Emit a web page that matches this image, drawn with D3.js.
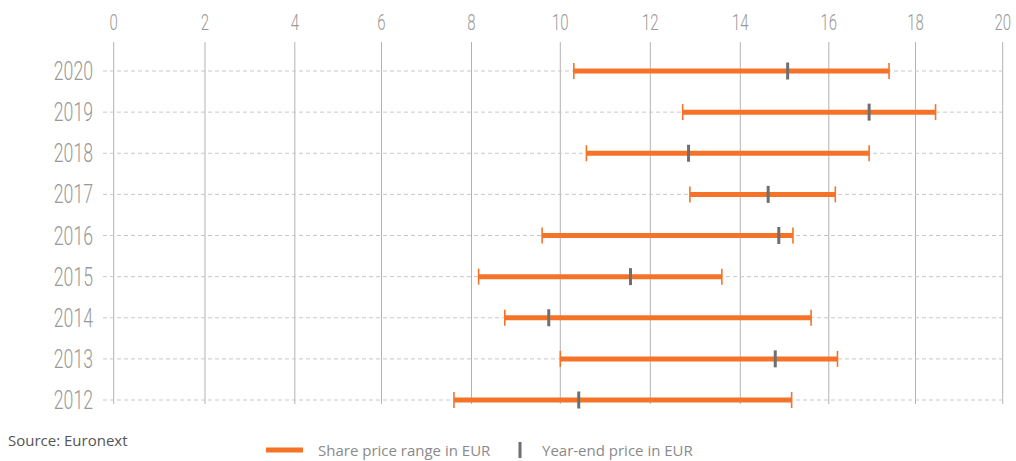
<!DOCTYPE html>
<html>
<head>
<meta charset="utf-8">
<script src="https://cdn.jsdelivr.net/npm/d3@7"></script>
<style>
  body { margin: 0; background: #fff; }
  svg { display: block; }
</style>
</head>
<body>
<svg id="chart" width="1016" height="461"></svg>
<script>
// data
var years   = ["2020","2019","2018","2017","2016","2015","2014","2013","2012"];
var lows    = [10.30, 12.72, 10.58, 12.88, 9.59, 8.16, 8.75, 10.00, 7.61];
var highs   = [17.39, 18.46, 16.93, 16.15, 15.19, 13.59, 15.60, 16.20, 15.16];
var yearEnd = [15.07, 16.93, 12.85, 14.63, 14.87, 11.56, 9.74, 14.79, 10.41];
var ticks   = [0,2,4,6,8,10,12,14,16,18,20];

var orange = "#f47328", grey = "#6f6f6f", txt = "#999";

var data = years.map(function(y, i) {
  return {year: y, low: lows[i], high: highs[i], end: yearEnd[i]};
});

var svg = d3.select("#chart");

// the gridlines in the picture are not evenly spaced, so piecewise scale
var x = d3.scaleLinear()
  .domain(ticks)
  .range([113.7, 205, 294.8, 381.5, 471.5, 560.3, 650.3, 740.3, 828.8, 915.5, 1002.7]);

var y = d3.scalePoint()
  .domain(years)
  .range([71, 400]);

// vertical gridlines
svg.append("g")
  .selectAll("line")
  .data(ticks)
  .enter().append("line")
    .attr("x1", function(d) { return x(d); })
    .attr("x2", function(d) { return x(d); })
    .attr("y1", 42)
    .attr("y2", 404)
    .attr("stroke", "#b3b3b3")
    .attr("stroke-width", 1);

// top tick labels (condensed light look)
svg.append("g")
  .selectAll("text")
  .data(ticks)
  .enter().append("text")
    .attr("transform", function(d) { return "translate(" + x(d) + ",30) scale(0.68,1)"; })
    .attr("text-anchor", "middle")
    .style("font-family", "Roboto")
    .style("font-weight", 300)
    .style("font-size", "22px")
    .attr("fill", txt)
    .text(function(d) { return d; });

// dashed row lines
svg.append("g")
  .selectAll("line")
  .data(years)
  .enter().append("line")
    .attr("x1", 103)
    .attr("x2", 1003)
    .attr("y1", function(d) { return y(d); })
    .attr("y2", function(d) { return y(d); })
    .attr("stroke", "#c8c8c8")
    .attr("stroke-dasharray", "4,3");

// year labels
svg.append("g")
  .selectAll("text")
  .data(years)
  .enter().append("text")
    .attr("transform", function(d) { return "translate(93," + (y(d) + 9) + ") scale(0.68,1)"; })
    .attr("text-anchor", "end")
    .style("font-family", "Roboto")
    .style("font-weight", 300)
    .style("font-size", "26px")
    .attr("fill", txt)
    .text(function(d) { return d; });

// ranges
var rows = svg.append("g").selectAll("g")
  .data(data)
  .enter().append("g");

rows.append("line")
  .attr("x1", function(d) { return x(d.low); })
  .attr("x2", function(d) { return x(d.high); })
  .attr("y1", function(d) { return y(d.year); })
  .attr("y2", function(d) { return y(d.year); })
  .attr("stroke", orange)
  .attr("stroke-width", 5);

["low","high"].forEach(function(k) {
  rows.append("line")
    .attr("x1", function(d) { return x(d[k]); })
    .attr("x2", function(d) { return x(d[k]); })
    .attr("y1", function(d) { return y(d.year) - 8; })
    .attr("y2", function(d) { return y(d.year) + 8; })
    .attr("stroke", orange)
    .attr("stroke-width", 1.6);
});

rows.append("rect")
  .attr("x", function(d) { return x(d.end) - 1.5; })
  .attr("y", function(d) { return y(d.year) - 8.5; })
  .attr("width", 3)
  .attr("height", 17)
  .attr("fill", grey);

// source
svg.append("text")
  .attr("x", 8)
  .attr("y", 446)
  .style("font-family", "Open Sans")
  .style("font-size", "15px")
  .attr("fill", "#555")
  .text("Source: Euronext");

// legend
var lg = svg.append("g");
lg.append("line")
  .attr("x1", 266).attr("x2", 303)
  .attr("y1", 450).attr("y2", 450)
  .attr("stroke", orange)
  .attr("stroke-width", 5);
lg.append("text")
  .attr("x", 318).attr("y", 456)
  .style("font-family", "Open Sans")
  .style("font-size", "15px")
  .attr("fill", "#8a8a8a")
  .text("Share price range in EUR");
lg.append("rect")
  .attr("x", 518.5).attr("y", 442)
  .attr("width", 3).attr("height", 16)
  .attr("fill", grey);
lg.append("text")
  .attr("x", 542).attr("y", 456)
  .style("font-family", "Open Sans")
  .style("font-size", "15px")
  .attr("fill", "#8a8a8a")
  .text("Year-end price in EUR");
</script>
</body>
</html>
